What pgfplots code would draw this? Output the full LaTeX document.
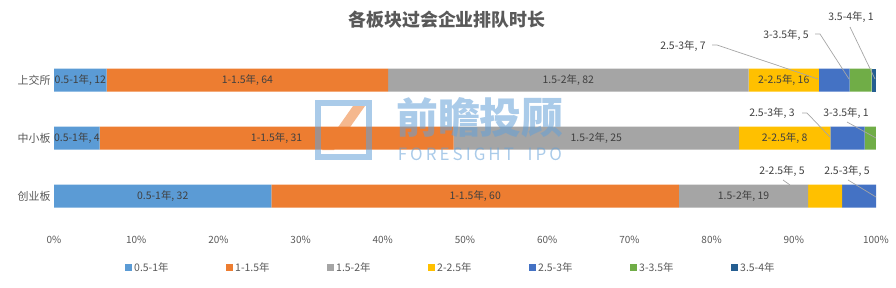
\documentclass[border=0pt]{standalone}
\usepackage{fontspec}
\setmainfont{Noto Sans CJK SC}
\usepackage{pgfplots}
\usepackage{pgfplotstable}
\pgfplotsset{compat=1.18, /pgf/number format/assume math mode=true}
\definecolor{c1}{HTML}{5B9BD5}
\definecolor{c2}{HTML}{ED7D31}
\definecolor{c3}{HTML}{A5A5A5}
\definecolor{c4}{HTML}{FFC000}
\definecolor{c5}{HTML}{4472C4}
\definecolor{c6}{HTML}{70AD47}
\definecolor{c7}{HTML}{255E91}
\definecolor{txt}{HTML}{595959}
\definecolor{lab}{HTML}{404040}
\definecolor{lead}{HTML}{A6A6A6}
\definecolor{wm}{RGB}{100,160,215}

\pgfplotstableread{
cat a b c d e f g t
2 12 64 82 16 7 5 1 187
1 4 31 25 8 3 1 0 72
0 32 60 19 5 5 0 0 121
}\data

% bar segment (share of the row total)
\newcommand{\seg}[3]{%
  \addplot[fill=#2, draw=none] table[y=cat, x expr=\thisrow{#1}/\thisrow{t}*100]{\data};
  \addlegendentry{\makebox[90bp][l]{#3}}
}
% in-bar label: #1 column, #2 cumulative columns before it, #3 name
\newcommand{\lbl}[3]{%
  \addplot[only marks, mark=none, point meta=\thisrow{#1},
    nodes near coords={#3, \pgfmathprintnumber{\pgfplotspointmeta}},
    every node near coord/.append style={anchor=center, font=\fontsize{10.5}{12}\selectfont, text=lab, inner sep=0pt}
  ] table[y=cat, x expr={\thisrow{#1}*20<\thisrow{t} ? nan : (#2+\thisrow{#1}/2)/\thisrow{t}*100}]{\data};
}

\begin{document}
\begin{tikzpicture}
\useasboundingbox (0bp,0bp) rectangle (896bp,-288bp);
\pgfplotsset{geom/.style={at={(54bp,-230.8bp)}, anchor=south west,
  scale only axis, width=822bp, height=185.6bp,
  xmin=0, xmax=100, ymin=-0.6, ymax=2.6, clip=false}}
\begin{axis}[geom,
  xbar stacked, bar width=23bp,
  axis line style={draw=none},
  major tick length=0pt,
  xtick={0,10,...,100},
  xticklabel={\pgfmathprintnumber{\tick}\%},
  ytick={0,1,2},
  yticklabels={创业板,中小板,上交所},
  xticklabel style={font=\fontsize{10}{12}\selectfont, text=txt, yshift=-2bp},
  yticklabel style={font=\fontsize{11}{12}\selectfont, text=txt},
  legend columns=7,
  legend image code/.code={\fill[#1] (0bp,-3.5bp) rectangle (7bp,3.5bp);},
  legend style={draw=none, fill=none, at={(0.0864,-0.2)}, anchor=west,
    inner sep=0pt, font=\fontsize{10.5}{12}\selectfont, text=txt,
    /tikz/every even column/.append style={column sep=0bp},
    nodes={inner xsep=2bp, inner ysep=0pt}},
]
\seg{a}{c1}{0.5-1年}
\seg{b}{c2}{1-1.5年}
\seg{c}{c3}{1.5-2年}
\seg{d}{c4}{2-2.5年}
\seg{e}{c5}{2.5-3年}
\seg{f}{c6}{3-3.5年}
\seg{g}{c7}{3.5-4年}
\end{axis}
\begin{axis}[geom, hide axis]
\lbl{a}{0}{0.5-1年}
\lbl{b}{\thisrow{a}}{1-1.5年}
\lbl{c}{\thisrow{a}+\thisrow{b}}{1.5-2年}
\lbl{d}{\thisrow{a}+\thisrow{b}+\thisrow{c}}{2-2.5年}
\lbl{e}{\thisrow{a}+\thisrow{b}+\thisrow{c}+\thisrow{d}}{2.5-3年}
\end{axis}
\begin{scope}[x=1bp,y=-1bp]
\node[font=\fontsize{18}{20}\selectfont\bfseries, text=txt] at (447,20) {各板块过会企业排队时长};
% callout labels
\begin{scope}[every node/.style={font=\fontsize{10.5}{12}\selectfont, text=lab, inner sep=0pt}, lead, line width=0.7bp]
\node at (683,46) {2.5-3年, 7};
\draw (712,45) -- (717,45) -- (818,79);
\node at (786,35) {3-3.5年, 5};
\draw (815,34) -- (820,34) -- (849,79);
\node at (851,17) {3.5-4年, 1};
\draw (850,27) -- (875,79);
\node at (772,113) {2.5-3年, 3};
\draw (802,113) -- (807,113) -- (830,137);
\node at (846,113) {3-3.5年, 1};
\draw (847,122) -- (876,138);
\node at (782,171) {2-2.5年, 5};
\draw (783,180) -- (790,185);
\node at (847,171) {2.5-3年, 5};
\draw (848,180) -- (876,197);
\end{scope}
% watermark
\begin{scope}[opacity=0.55]
\draw[wm, line width=6bp] (318,103) rectangle (369,157);
\fill[c2] (322,150) -- (334,150) -- (365,106) -- (353,106) -- cycle;
\node[font=\fontsize{42}{44}\selectfont\bfseries, text=wm, inner sep=0pt] at (480,118) {前瞻投顾};
\node[font=\fontsize{17}{18}\selectfont\addfontfeatures{LetterSpace=18}, text=wm, inner sep=0pt] at (480,154) {FORESIGHT\ \ IPO};
\end{scope}
\end{scope}
\end{tikzpicture}
\end{document}
